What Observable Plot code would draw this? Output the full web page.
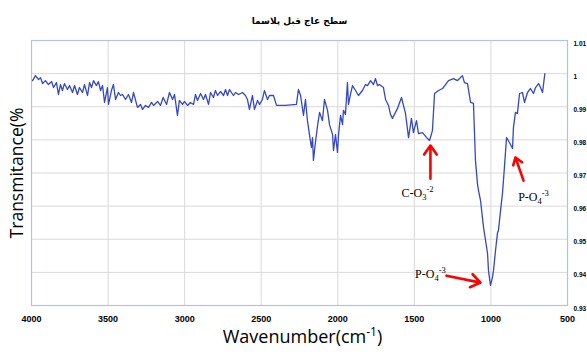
<!DOCTYPE html>
<html><head><meta charset="utf-8">
<script src="https://cdn.jsdelivr.net/npm/d3@7"></script>
<script src="https://cdn.jsdelivr.net/npm/@observablehq/plot@0.6"></script>
<style>html,body{margin:0;padding:0;background:#fff}</style>
</head><body><div id="chart"></div>
<script>
const wavenumber = [3993,3974,3954,3941,3928,3909,3889,3869,3856,3837,3824,3811,3798,3785,3765,3752,3732,3719,3700,3687,3667,3654,3634,3621,3608,3595,3576,3563,3549,3536,3523,3504,3497,3478,3465,3451,3432,3419,3406,3386,3367,3347,3334,3308,3288,3275,3256,3236,3216,3203,3177,3158,3140,3118,3099,3079,3066,3047,3034,3014,3001,2981,2962,2942,2929,2916,2896,2877,2864,2844,2831,2812,2799,2785,2766,2746,2733,2720,2707,2681,2668,2648,2622,2603,2590,2577,2557,2544,2524,2511,2492,2479,2459,2446,2420,2400,2341,2270,2257,2243,2224,2211,2198,2185,2172,2165,2159,2146,2132,2119,2100,2087,2067,2054,2034,2028,2015,2002,1995,1982,1969,1963,1950,1937,1930,1917,1904,1884,1865,1839,1819,1806,1786,1767,1754,1741,1728,1702,1688,1669,1656,1643,1610,1584,1558,1538,1519,1506,1486,1473,1447,1414,1401,1382,1368,1342,1316,1277,1244,1218,1186,1173,1153,1133,1114,1101,1088,1081,1068,1048,1022,1016,1003,990,983,970,957,951,937,924,911,898,879,859,853,840,827,813,794,781,761,742,722,709,689,676,663,648];
const transmittance = [0.9979,0.9994,0.9982,0.9988,0.9970,0.9979,0.9967,0.9976,0.9958,0.9973,0.9937,0.9967,0.9949,0.9970,0.9952,0.9964,0.9943,0.9964,0.9937,0.9958,0.9943,0.9967,0.9934,0.9973,0.9958,0.9979,0.9964,0.9976,0.9949,0.9964,0.9913,0.9958,0.9907,0.9949,0.9967,0.9922,0.9943,0.9934,0.9937,0.9922,0.9937,0.9913,0.9943,0.9898,0.9907,0.9892,0.9904,0.9898,0.9913,0.9904,0.9916,0.9904,0.9928,0.9907,0.9943,0.9922,0.9937,0.9874,0.9919,0.9907,0.9916,0.9904,0.9913,0.9907,0.9937,0.9919,0.9940,0.9922,0.9937,0.9907,0.9943,0.9928,0.9949,0.9934,0.9946,0.9934,0.9952,0.9934,0.9952,0.9934,0.9943,0.9937,0.9943,0.9934,0.9922,0.9892,0.9934,0.9892,0.9919,0.9907,0.9922,0.9949,0.9922,0.9934,0.9934,0.9904,0.9904,0.9907,0.9952,0.9934,0.9874,0.9922,0.9858,0.9816,0.9777,0.9807,0.9738,0.9792,0.9843,0.9883,0.9858,0.9922,0.9889,0.9846,0.9816,0.9768,0.9816,0.9762,0.9816,0.9874,0.9846,0.9889,0.9877,0.9973,0.9907,0.9937,0.9964,0.9949,0.9934,0.9949,0.9967,0.9964,0.9979,0.9967,0.9985,0.9964,0.9967,0.9958,0.9922,0.9904,0.9877,0.9865,0.9895,0.9928,0.9880,0.9807,0.9865,0.9822,0.9858,0.9819,0.9822,0.9804,0.9798,0.9828,0.9940,0.9949,0.9955,0.9979,0.9985,0.9979,0.9994,0.9973,0.9970,0.9913,0.9910,0.9738,0.9668,0.9647,0.9617,0.9535,0.9457,0.9406,0.9361,0.9385,0.9406,0.9466,0.9520,0.9526,0.9587,0.9641,0.9723,0.9807,0.9792,0.9774,0.9837,0.9883,0.9880,0.9940,0.9943,0.9913,0.9943,0.9955,0.9940,0.9958,0.9970,0.9958,0.9943,1.0000];

const xTicks = [4000,3500,3000,2500,2000,1500,1000,500];
const yTicks = [0.93,0.94,0.95,0.96,0.97,0.98,0.99,1,1.01];

const titleText = "سطح عاج قبل پلاسما";
const xTitleBase = "Wavenumber(cm";
const xTitleSup = "-1";
const xTitleEnd = ")";
const yTitleText = "Transmitance(%";

// annotations (data coordinates)
const annBase = ["C-O","P-O","P-O"];
const annSub = ["3","4","4"];
const annSup = ["-2","-3","-3"];
const annX = [1479,1395,722];
const annY = [0.9638,0.9396,0.9626];
const arrowX1 = [1395,1290,787];
const arrowY1 = [0.9683,0.9390,0.9677];
const arrowX2 = [1395,1068,840];
const arrowY2 = [0.9783,0.9369,0.9747];

const spectrum = wavenumber.map((w,i)=>({w, t: transmittance[i]}));
const labels = annBase.map((b,i)=>({x: annX[i], y: annY[i], text: b + annSub[i] + annSup[i]}));
const arrows = arrowX1.map((x,i)=>({x1: x, y1: arrowY1[i], x2: arrowX2[i], y2: arrowY2[i]}));

const chart = Plot.plot({
  width: 587, height: 354,
  marginTop: 40, marginBottom: 49, marginLeft: 31, marginRight: 20,
  x: {domain: [4000, 500]},
  y: {domain: [0.93, 1.01]},
  style: {background: "#fff", fontFamily: "Liberation Sans, sans-serif", color: "#000"},
  marks: [
    Plot.gridX(xTicks, {stroke: "#d9d9d9", strokeOpacity: 1}),
    Plot.gridY(yTicks, {stroke: "#d9d9d9", strokeOpacity: 1}),
    Plot.frame({stroke: "#b4c2e0", strokeWidth: 1.2}),
    Plot.axisX(xTicks, {tickSize: 0, tickPadding: 10, fontSize: 9, fontWeight: "bold", label: null, tickFormat: d => String(d)}),
    Plot.axisY(yTicks, {anchor: "right", tickSize: 0, tickPadding: 6, fontSize: 6.5, fontWeight: "bold", label: null, dy: 3, tickFormat: d => String(d)}),
    Plot.line(spectrum, {x: "w", y: "t", stroke: "#3548c4", strokeWidth: 1.3}),
    Plot.arrow(arrows, {x1: "x1", y1: "y1", x2: "x2", y2: "y2", stroke: "#ff0000", strokeWidth: 2.6, headLength: 10, headAngle: 70}),
    Plot.text(labels, {x: "x", y: "y", text: "text", className: "ann", fontFamily: "Liberation Serif, serif", fontSize: 12, fill: "#000"}),
    Plot.text([titleText], {frameAnchor: "top", dy: -23, text: d => d, fontFamily: "DejaVu Sans", fontWeight: "bold", fontSize: 9, fill: "#000"}),
    Plot.text([xTitleBase], {frameAnchor: "bottom", dy: 37, dx: 3, text: d => d, className: "xtitle", fontFamily: "Open Sans", fontSize: 18, fill: "#000"}),
    Plot.text([yTitleText], {frameAnchor: "left", dx: -14, rotate: -90, textAnchor: "middle", text: d => d, fontFamily: "Open Sans", fontSize: 17.5, fill: "#000"})
  ]
});

document.getElementById("chart").appendChild(chart);

d3.select(chart).selectAll(".ann text").each(function(d, i) {
  const t = d3.select(this);
  t.text(null);
  t.append("tspan").text(annBase[i]);
  t.append("tspan").attr("dy", 3).attr("font-size", 8.5).text(annSub[i]);
  t.append("tspan").attr("dy", -8).attr("font-size", 8.5).text(annSup[i]);
});
d3.select(chart).selectAll(".xtitle text").each(function() {
  const t = d3.select(this);
  t.text(null);
  t.append("tspan").text(xTitleBase);
  t.append("tspan").attr("dy", -7).attr("font-size", 12).text(xTitleSup);
  t.append("tspan").attr("dy", 7).text(xTitleEnd);
});
</script>
</body></html>
